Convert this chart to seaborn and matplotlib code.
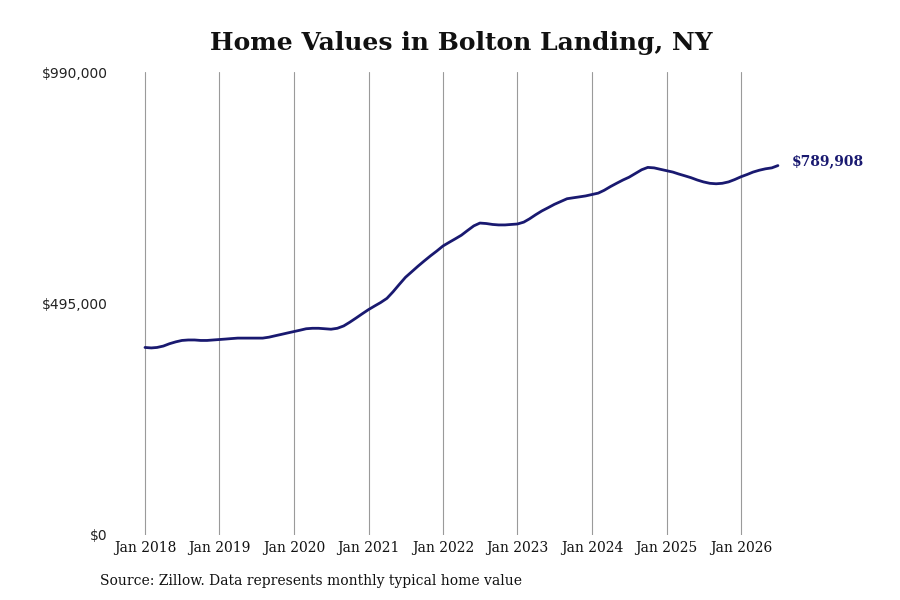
import pandas as pd
import numpy as np
import seaborn as sns
import matplotlib.pyplot as plt
import matplotlib.dates as mdates
from matplotlib.ticker import FuncFormatter

# monthly typical home value, Jan 2018 - Jul 2026
values_2018 = [401000, 400000, 401000, 404000, 409000, 413000, 416000, 417000, 417000, 416000, 416000, 417000]
values_2019 = [418000, 419000, 420000, 421000, 421000, 421000, 421000, 421000, 423000, 426000, 429000, 432000]
values_2020 = [435000, 438000, 441000, 442000, 442000, 441000, 440000, 442000, 447000, 455000, 464000, 473000]
values_2021 = [482000, 490000, 497000, 506000, 520000, 536000, 551000, 563000, 575000, 586000, 597000, 607000]
values_2022 = [618000, 626000, 633000, 641000, 651000, 661000, 667000, 666000, 664000, 663000, 663000, 664000]
values_2023 = [665000, 669000, 676000, 685000, 693000, 700000, 707000, 713000, 719000, 721000, 723000, 725000]
values_2024 = [728000, 731000, 737000, 745000, 752000, 759000, 765000, 773000, 781000, 786000, 785000, 782000]
values_2025 = [779000, 776000, 772000, 768000, 764000, 759000, 755000, 752000, 751000, 752000, 755000, 760000]
values_2026 = [766000, 771000, 776000, 780000, 783000, 785000, 789908]

home_values = (values_2018 + values_2019 + values_2020 + values_2021 + values_2022
               + values_2023 + values_2024 + values_2025 + values_2026)
dates = pd.date_range("2018-01-01", periods=len(home_values), freq="MS")
tick_years = list(range(2018, 2027))
y_ticks = [0, 495000, 990000]

df = pd.DataFrame({"date": dates, "value": home_values})

sns.set_style("white")
plt.rcParams['font.family'] = ['DejaVu Serif']

fig = plt.figure(figsize=(9, 6), dpi=100)
ax = fig.add_axes([120 / 900, 65 / 600, 700 / 900, 463 / 600])

line_color = "#191970"
sns.lineplot(data=df, x="date", y="value", ax=ax, color=line_color, linewidth=2.0)

x0 = mdates.date2num(pd.Timestamp("2018-01-01"))
px_per_day = 596 / 2922
ax.set_xlim(x0 - 25 / px_per_day, x0 + 675 / px_per_day)
ax.set_ylim(0, 990000)

ax.set_xticks([pd.Timestamp(f"{y}-01-01") for y in tick_years])
ax.set_xticklabels([f"Jan {y}" for y in tick_years], fontsize=10)
ax.set_yticks(y_ticks)
ax.yaxis.set_major_formatter(FuncFormatter(lambda v, p: f"${v:,.0f}"))
for lab in ax.get_yticklabels():
    lab.set_family("DejaVu Sans")
    lab.set_fontsize(10)
    lab.set_color("#222222")
ax.tick_params(axis="x", length=0, pad=4, colors="#111111")
ax.tick_params(axis="y", length=0, pad=9)

ax.grid(axis="x", color="#9a9a9a", linewidth=0.8)
ax.grid(axis="y", visible=False)
for s in ax.spines.values():
    s.set_visible(False)
ax.set_xlabel("")
ax.set_ylabel("")

last = df.iloc[-1]
ax.annotate(f"${last['value']:,.0f}", xy=(last["date"], last["value"]),
            xytext=(10, 3), textcoords="offset points", ha="left", va="center",
            fontsize=10, fontweight="bold", color=line_color)

fig.text(461 / 900, 1 - 43 / 600, "Home Values in Bolton Landing, NY",
         ha="center", va="center", fontsize=18, fontweight="bold", color="#111111")
fig.text(100 / 900, 1 - 581 / 600, "Source: Zillow. Data represents monthly typical home value",
         ha="left", va="center", fontsize=10, color="#111111")

fig.savefig("out.png", dpi=100)
